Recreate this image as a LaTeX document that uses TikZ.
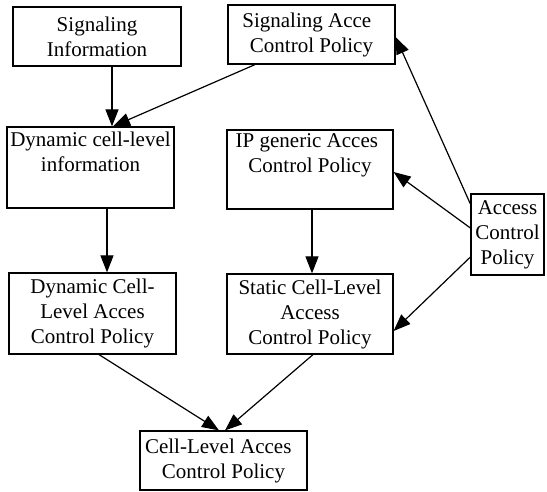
\documentclass[tikz,border=0pt]{standalone}
\usepackage{fontspec}
\setmainfont{Liberation Serif}
\usetikzlibrary{arrows.meta}
\tikzset{
  box/.style={draw, line width=1.2pt, align=center, inner sep=0pt,
    font=\fontsize{21}{25}\selectfont},
  link/.style={line width=1.2pt, -{Triangle[length=17pt,width=13pt]}}
}
\begin{document}
\begin{tikzpicture}[x=1pt, y=-1pt]
  \useasboundingbox (0,0) rectangle (547,492);

  % boxes
  \node[box, minimum width=168pt, minimum height=59pt] (sigInfo) at (97,36.5)
    {Signaling\\Information};
  \node[box, minimum width=167pt, minimum height=59pt] (sigAcc) at (311.5,34.5)
    {Signaling Acce\hspace*{0.45em}\\Control Policy};
  \node[box, minimum width=167pt, minimum height=81pt] (dynInfo) at (90.5,167.5)
    {Dynamic cell-level\\information\\\strut};
  \node[box, minimum width=166pt, minimum height=79pt] (ipGen) at (310,169.5)
    {IP generic Acces\hspace*{0.3em}\\Control Policy\\\strut};
  \node[box, minimum width=73pt, minimum height=81pt] (acp) at (507.5,234.5)
    {Access\\Control\\Policy};
  \node[box, minimum width=167pt, minimum height=81pt] (dynPol) at (92.5,313.5)
    {Dynamic Cell-\\Level Acces\\Control Policy};
  \node[box, minimum width=166pt, minimum height=80pt] (statPol) at (310,314)
    {Static Cell-Level\\Access\\Control Policy};
  \node[box, minimum width=167pt, minimum height=59pt] (cellPol) at (223.5,460.5)
    {Cell-Level Acces\hspace*{0.5em}\\Control Policy};

  % connectors
  \draw[link] ([xshift=15pt]sigInfo.south) -- ([xshift=21.5pt]dynInfo.north);
  \draw[link] ([xshift=-56.5pt]sigAcc.south) -- ([xshift=22.5pt]dynInfo.north);
  \draw[link] ([xshift=16.5pt]dynInfo.south) -- ([xshift=14.5pt]dynPol.north);
  \draw[link] ([xshift=2pt]ipGen.south) -- ([xshift=2pt]statPol.north);
  \draw[link] ([yshift=30.5pt]acp.west) -- ([yshift=-2.5pt]sigAcc.east);
  \draw[link] ([yshift=6.5pt]acp.west) -- ([yshift=-2.5pt]ipGen.east);
  \draw[link] ([yshift=-22.5pt]acp.west) -- ([yshift=-17pt]statPol.east);
  \draw[link] ([xshift=6.5pt]dynPol.south) -- ([xshift=-4.5pt]cellPol.north);
  \draw[link] ([xshift=3pt]statPol.south) -- ([xshift=1.5pt]cellPol.north);
\end{tikzpicture}
\end{document}
